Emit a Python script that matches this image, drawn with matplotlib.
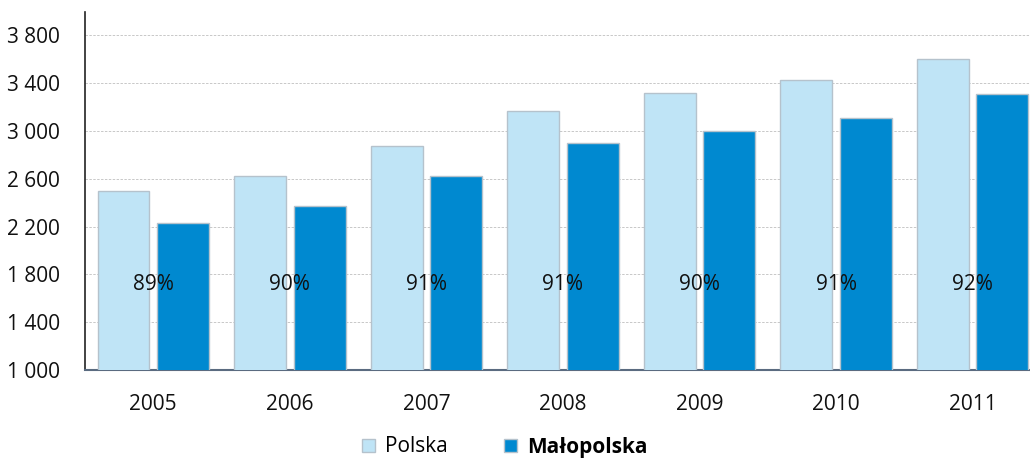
import matplotlib
matplotlib.use("Agg")
import matplotlib.pyplot as plt
import numpy as np
from matplotlib.patches import Patch

years = ["2005", "2006", "2007", "2008", "2009", "2010", "2011"]
polska = [2500, 2620, 2870, 3170, 3315, 3425, 3600]
malopolska = [2230, 2370, 2620, 2895, 3000, 3105, 3305]
pct_labels = ["89%", "90%", "91%", "91%", "90%", "91%", "92%"]
yticks = [1000, 1400, 1800, 2200, 2600, 3000, 3400, 3800]
ytick_labels = ["1 000", "1 400", "1 800", "2 200", "2 600", "3 000", "3 400", "3 800"]

plt.rcParams['font.family'] = ['Open Sans', 'DejaVu Sans']

fig = plt.figure(figsize=(10.30, 4.59), dpi=100)
ax = fig.add_axes([85/1030, 1 - 370/459, (1030 - 85)/1030, (370 - 12)/459])

x = np.arange(len(years))
w = 0.38
c_pl = "#bfe4f6"
c_mp = "#0089d0"
edge = "#b5c2cc"
fs = 15
ax.bar(x - 0.218, polska, width=w, color=c_pl, edgecolor=edge, linewidth=1.0, zorder=3)
ax.bar(x + 0.218, malopolska, width=w, color=c_mp, edgecolor=edge, linewidth=1.0, zorder=3)

for xi, lab in zip(x, pct_labels):
    ax.text(xi, 1715, lab, ha="center", va="center", fontsize=fs, color="#111111", zorder=5)

ax.set_ylim(1000, 3995)
ax.set_xlim(-0.5, 6.42)
ax.set_yticks(yticks)
ax.set_yticklabels(ytick_labels, fontsize=fs, color="#111111")
ax.set_xticks(x)
ax.set_xticklabels(years, fontsize=fs, color="#111111")
ax.tick_params(axis="both", length=0)
ax.tick_params(axis="y", pad=18)
ax.tick_params(axis="x", pad=17)

ax.yaxis.grid(True, linestyle=(0, (2.5, 1.5)), color="#c8c8c8", linewidth=0.7, zorder=0)
ax.set_axisbelow(True)
for s in ["top", "right"]:
    ax.spines[s].set_visible(False)
ax.spines["left"].set_color("#222222")
ax.spines["left"].set_linewidth(1.2)
ax.spines["bottom"].set_color("#5a6b80")
ax.spines["bottom"].set_linewidth(1.5)

handles = [Patch(facecolor=c_pl, edgecolor=edge, label="Polska"),
           Patch(facecolor=c_mp, edgecolor=edge, label="Małopolska")]
leg = fig.legend(handles=handles, loc="center", bbox_to_anchor=(505/1030, 1 - 447/459),
                 ncol=2, frameon=False, fontsize=fs, handlelength=0.6, handleheight=0.6,
                 handletextpad=0.5, columnspacing=2.7)
leg.get_texts()[1].set_fontweight("bold")

fig.savefig("out.png", dpi=100)
